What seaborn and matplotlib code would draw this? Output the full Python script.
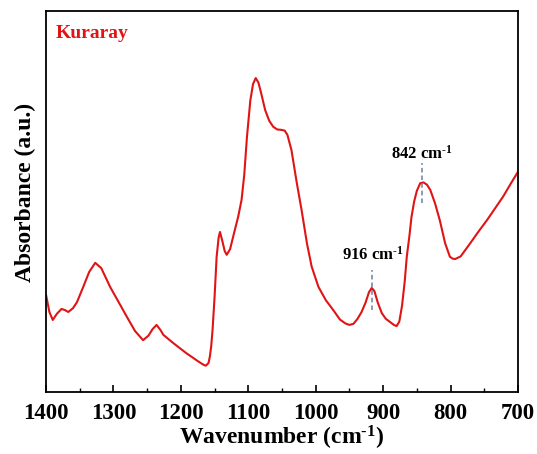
import matplotlib
matplotlib.use("Agg")
import matplotlib.pyplot as plt
import seaborn as sns
import pandas as pd

wavenumber = [1400, 1395, 1390, 1384, 1377, 1372, 1367, 1360, 1354, 1345, 1336, 1327, 1318,
              1305, 1292, 1280, 1268, 1256, 1248, 1242, 1236, 1230, 1226, 1211, 1192, 1174,
              1167, 1163, 1159, 1157, 1155, 1153, 1150, 1147, 1144, 1142, 1139, 1135, 1132,
              1127, 1120, 1115, 1110, 1106, 1102, 1097, 1093, 1089, 1085, 1081, 1075, 1069,
              1063, 1057, 1051, 1046, 1042, 1036, 1028, 1021, 1013, 1006, 996, 985, 974,
              964, 956, 950, 944, 938, 932, 926, 921, 917, 913, 908, 902, 896, 890, 884,
              880, 876, 872, 868, 865, 861, 858, 854, 850, 845, 840, 835, 830, 823, 816,
              808, 801, 797, 793, 785, 771, 759, 746, 734, 722, 711, 700]
absorbance = [25.5, 21.0, 18.9, 20.5, 21.8, 21.5, 21.0, 22.0, 23.6, 27.5, 31.5, 33.9, 32.5,
              27.6, 23.5, 19.7, 16.0, 13.6, 14.8, 16.5, 17.6, 16.2, 15.0, 12.8, 10.2, 8.0,
              7.2, 6.9, 7.6, 9.3, 12.0, 16.3, 25.0, 35.4, 40.5, 42.0, 40.0, 37.0, 36.0,
              37.5, 42.5, 46.0, 50.4, 57.0, 66.9, 76.5, 80.8, 82.4, 81.2, 78.5, 74.0, 71.2,
              69.6, 68.9, 68.8, 68.6, 67.5, 63.5, 54.8, 47.8, 39.0, 32.9, 27.6, 24.1, 21.5,
              19.0, 18.0, 17.6, 17.9, 19.2, 21.0, 23.5, 26.2, 27.3, 26.5, 23.5, 20.7, 19.2,
              18.4, 17.6, 17.3, 18.5, 22.6, 29.0, 35.4, 41.0, 45.9, 50.0, 52.8, 54.8, 55.0,
              54.4, 53.0, 49.5, 45.1, 39.0, 35.5, 35.0, 34.9, 35.6, 39.0, 42.0, 45.1, 48.2,
              51.3, 54.6, 57.8]

peak_positions = [916, 842]
peak_labels = ["916 cm$^{\\text{-1}}$", "842 cm$^{\\text{-1}}$"]
marker_ranges = [(21.5, 32.0), (49.5, 60.0)]
label_heights = [36.0, 62.5]
x_ticks = [1400, 1300, 1200, 1100, 1000, 900, 800, 700]
sample_name = "Kuraray"

df = pd.DataFrame({"Wavenumber": wavenumber, "Absorbance": absorbance})

sns.set_theme(style="white")
plt.rcParams["font.family"] = ["Liberation Serif", "DejaVu Serif"]
plt.rcParams["mathtext.fontset"] = "custom"
plt.rcParams["mathtext.rm"] = "Liberation Serif:bold"
plt.rcParams["mathtext.bf"] = "Liberation Serif:bold"
plt.rcParams["mathtext.default"] = "bf"
plt.rcParams["text.color"] = "black"
plt.rcParams["axes.labelcolor"] = "black"
plt.rcParams["xtick.color"] = "black"
plt.rcParams["ytick.color"] = "black"

fig = plt.figure(figsize=(5.37, 4.54), dpi=100)
ax = fig.add_axes([0.0857, 0.1366, 0.8789, 0.8392])

sns.lineplot(data=df, x="Wavenumber", y="Absorbance", ax=ax, color="#e01414",
             linewidth=1.5, sort=False, estimator=None)

for pos, (y0, y1), lab, h in zip(peak_positions, marker_ranges, peak_labels, label_heights):
    ax.plot([pos, pos], [y0, y1], linestyle=(0, (3, 2)), color="#6a7fa8", linewidth=1.1)
    ax.text(pos, h, lab, ha="center", va="center", fontsize=12, fontweight="bold", color="black")

ax.text(0.02, 0.94, sample_name, transform=ax.transAxes, color="#e01414",
        fontsize=14, fontweight="bold", ha="left", va="center")

ax.set_xlim(1400, 700)
ax.set_ylim(0, 100)
ax.set_xticks(x_ticks)
ax.set_xticks([1350, 1250, 1150, 1050, 950, 850, 750], minor=True)
ax.set_xticklabels([str(t) for t in x_ticks], fontsize=16.5, fontweight="bold", color="black")
ax.set_yticks([])
ax.tick_params(axis="x", which="major", direction="in", length=5, width=1.2, pad=8, bottom=True)
ax.tick_params(axis="x", which="minor", direction="in", length=3, width=1.0, bottom=True)
ax.set_xlabel("Wavenumber (cm$^{\\text{-1}}$)", fontsize=17, fontweight="bold", labelpad=0,
              color="black")
ax.set_ylabel("Absorbance (a.u.)", fontsize=17, fontweight="bold", color="black")
ax.yaxis.set_label_coords(-0.022, 0.525)
for s in ax.spines.values():
    s.set_color("black")
    s.set_linewidth(1.3)

fig.savefig("out.png", dpi=100)
